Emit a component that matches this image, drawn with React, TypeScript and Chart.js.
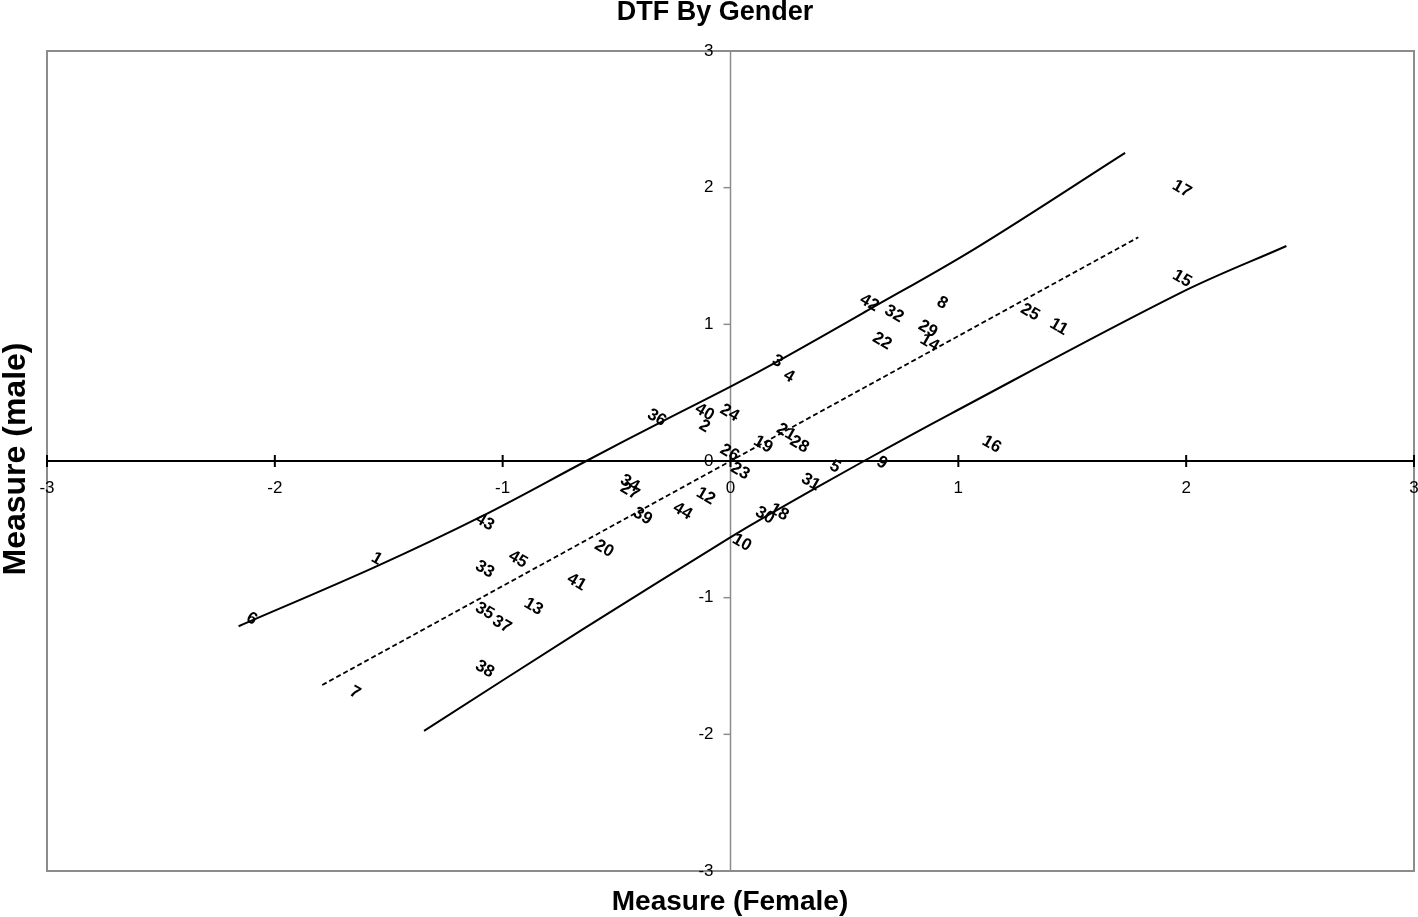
import React, { useEffect, useRef } from "react";
import { Chart, registerables } from "chart.js";

Chart.register(...registerables);

// ---- Data ----
const itemLabels = [
  "1", "2", "3", "4", "5", "6", "7", "8", "9", "10",
  "11", "12", "13", "14", "15", "16", "17", "18", "19", "20",
  "21", "22", "23", "24", "25", "26", "27", "28", "29", "30",
  "31", "32", "33", "34", "35", "36", "37", "38", "39", "40",
  "41", "42", "43", "44", "45",
];
const femaleMeasures = [
  -1.553, -0.114, 0.206, 0.256, 0.458, -2.102, -1.648, 0.929, 0.665, 0.05,
  1.441, -0.109, -0.865, 0.874, 1.982, 1.146, 1.981, 0.213, 0.143, -0.555,
  0.244, 0.665, 0.042, -0.004, 1.315, -0.004, -0.442, 0.302, 0.866, 0.151,
  0.352, 0.718, -1.079, -0.442, -1.079, -0.324, -1.004, -1.079, -0.386, -0.114,
  -0.676, 0.609, -1.079, -0.21, -0.933,
];
const maleMeasures = [
  -0.715, 0.254, 0.73, 0.62, -0.042, -1.154, -1.694, 1.156, -0.013, -0.598,
  0.981, -0.257, -1.066, 0.864, 1.334, 0.121, 1.99, -0.374, 0.121, -0.642,
  0.211, 0.876, -0.075, 0.352, 1.088, 0.06, -0.221, 0.121, 0.966, -0.398,
  -0.155, 1.076, -0.793, -0.164, -1.098, 0.316, -1.195, -1.524, -0.404, 0.357,
  -0.886, 1.156, -0.447, -0.367, -0.72,
];

const upperBandX = [-2.159, -1.554, -1.086, -0.633, -0.305, 0, 0.221, 0.6, 1.079, 1.732];
const upperBandY = [-1.209, -0.771, -0.4, 0, 0.285, 0.544, 0.742, 1.1, 1.56, 2.255];
const lowerBandX = [-1.345, -0.649, -0.006, 0.157, 0.586, 0.966, 1.975, 2.44];
const lowerBandY = [-1.975, -1.232, -0.565, -0.404, 0, 0.345, 1.23, 1.573];
const identityX = [-1.792, 1.79];
const identityY = [-1.639, 1.637];

const xTicks = [-3, -2, -1, 0, 1, 2, 3];
const yTicks = [-3, -2, -1, 0, 1, 2, 3];

const chartTitle = "DTF By Gender";
const xAxisTitle = "Measure (Female)";
const yAxisTitle = "Measure (male)";

const FONT = '"Liberation Sans", Arial, Helvetica, sans-serif';

const decorPlugin = {
  id: "decor",
  beforeDatasetsDraw(chart: any) {
    const { ctx, chartArea, scales } = chart;
    const { left, right, top, bottom } = chartArea;
    const xs = scales.x;
    const ys = scales.y;
    const x0 = xs.getPixelForValue(0);
    const y0 = ys.getPixelForValue(0);
    const seg = (a: number, b: number, c: number, d: number) => {
      ctx.beginPath();
      ctx.moveTo(a, b);
      ctx.lineTo(c, d);
      ctx.stroke();
    };
    ctx.save();
    // frame
    ctx.strokeStyle = "#8c8c8c";
    ctx.lineWidth = 2;
    ctx.strokeRect(left, top, right - left, bottom - top);
    // vertical axis
    ctx.strokeStyle = "#8c8c8c";
    ctx.lineWidth = 1.5;
    seg(x0, top, x0, bottom);
    yTicks.forEach((v) => {
      const py = ys.getPixelForValue(v);
      seg(x0 - 7, py, x0, py);
    });
    // horizontal axis
    ctx.strokeStyle = "#000";
    ctx.lineWidth = 2;
    seg(left, y0, right, y0);
    xTicks.forEach((v) => {
      const px = xs.getPixelForValue(v);
      seg(px, y0 - 6, px, y0 + 6);
    });
    // tick labels
    ctx.fillStyle = "#000";
    ctx.font = "17px " + FONT;
    ctx.textAlign = "center";
    ctx.textBaseline = "middle";
    xTicks.forEach((v) => {
      ctx.fillText(String(v), xs.getPixelForValue(v), y0 + 27);
    });
    ctx.textAlign = "right";
    yTicks.forEach((v) => {
      ctx.fillText(String(v), x0 - 17, ys.getPixelForValue(v));
    });
    ctx.restore();
  },
  afterDatasetsDraw(chart: any) {
    const { ctx } = chart;
    const meta = chart.getDatasetMeta(0);
    ctx.save();
    ctx.fillStyle = "#000";
    ctx.font = "bold 17px " + FONT;
    ctx.textAlign = "center";
    ctx.textBaseline = "middle";
    meta.data.forEach((el: any, i: number) => {
      ctx.save();
      ctx.translate(el.x, el.y);
      ctx.rotate((30 * Math.PI) / 180);
      ctx.fillText(itemLabels[i], 0, 0);
      ctx.restore();
    });
    ctx.restore();
  },
  afterDraw(chart: any) {
    const { ctx } = chart;
    ctx.save();
    ctx.fillStyle = "#000";
    ctx.textAlign = "center";
    ctx.textBaseline = "middle";
    ctx.font = "bold 27px " + FONT;
    ctx.fillText(chartTitle, 715, 13);
    ctx.font = "bold 28px " + FONT;
    ctx.fillText(xAxisTitle, 730, 902);
    ctx.translate(16, 459);
    ctx.rotate(-Math.PI / 2);
    ctx.font = "bold 32px " + FONT;
    ctx.fillText(yAxisTitle, 0, 0);
    ctx.restore();
  },
};

const pts = (xs: number[], ys: number[]) => xs.map((x, i) => ({ x, y: ys[i] }));

export default function App() {
  const ref = useRef<HTMLCanvasElement | null>(null);
  useEffect(() => {
    if (!ref.current) return;
    const chart = new Chart(ref.current, {
      type: "scatter",
      data: {
        datasets: [
          {
            label: "Items",
            data: pts(femaleMeasures, maleMeasures),
            pointRadius: 0,
            pointHoverRadius: 0,
            showLine: false,
          },
          {
            label: "Upper",
            data: pts(upperBandX, upperBandY),
            showLine: true,
            borderColor: "#000",
            borderWidth: 2,
            pointRadius: 0,
            tension: 0.35,
            fill: false,
          },
          {
            label: "Lower",
            data: pts(lowerBandX, lowerBandY),
            showLine: true,
            borderColor: "#000",
            borderWidth: 2,
            pointRadius: 0,
            tension: 0.35,
            fill: false,
          },
          {
            label: "Identity",
            data: pts(identityX, identityY),
            showLine: true,
            borderColor: "#000",
            borderWidth: 1.8,
            borderDash: [5, 3],
            pointRadius: 0,
            fill: false,
          },
        ],
      } as any,
      options: {
        animation: false,
        responsive: false,
        devicePixelRatio: 1,
        layout: { padding: { left: 47, right: 4, top: 51, bottom: 46 } },
        scales: {
          x: { type: "linear", min: -3, max: 3, display: false },
          y: { type: "linear", min: -3, max: 3, display: false },
        },
        plugins: {
          legend: { display: false },
          tooltip: { enabled: false },
          title: { display: false },
        },
      } as any,
      plugins: [decorPlugin],
    });
    return () => chart.destroy();
  }, []);
  return (
    <div style={{ position: "fixed", left: 0, top: 0, width: 1418, height: 917, background: "#fff" }}>
      <canvas ref={ref} width={1418} height={917} style={{ width: 1418, height: 917 }} />
    </div>
  );
}
